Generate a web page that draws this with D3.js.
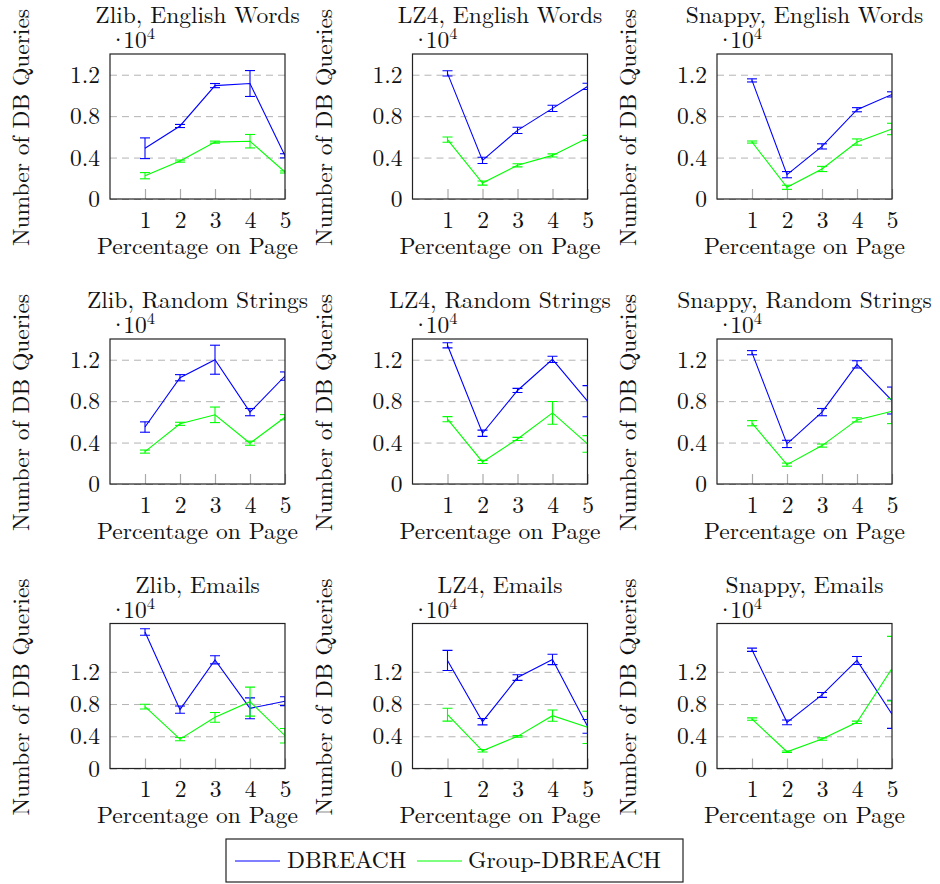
<!DOCTYPE html>
<html>
<head>
<meta charset="utf-8">
<script src="https://cdn.jsdelivr.net/npm/d3@7"></script>
<style>
  body { margin: 0; background: #fff; }
</style>
</head>
<body>
<div id="chart"></div>
<script>
// categories
var xValues = [1, 2, 3, 4, 5];
var algorithms = ['Zlib', 'LZ4', 'Snappy'];
var datasets = ['English Words', 'Random Strings', 'Emails'];
var seriesNames = ['DBREACH', 'Group-DBREACH'];

// y axis per row (values in units of 10^4)
var rowYMax = [1.4, 1.4, 1.8];
var yTickValues = [0, 0.4, 0.8, 1.2];
var yTickLabels = ['0', '0.4', '0.8', '1.2'];

// panels in reading order: row = dataset, col = algorithm
var dbreachMean = [
  [0.49, 0.705, 1.095, 1.115, 0.417],
  [1.213, 0.373, 0.663, 0.875, 1.087],
  [1.145, 0.235, 0.508, 0.862, 1.01],
  [0.55, 1.026, 1.2, 0.694, 1.042],
  [1.339, 0.49, 0.903, 1.203, 0.8],
  [1.268, 0.387, 0.694, 1.155, 0.806],
  [1.694, 0.731, 1.349, 0.747, 0.835],
  [1.341, 0.581, 1.129, 1.354, 0.523],
  [1.474, 0.573, 0.913, 1.341, 0.673]
];
var dbreachErr = [
  [0.10, 0.015, 0.02, 0.125, 0.02],
  [0.025, 0.03, 0.03, 0.03, 0.03],
  [0.015, 0.03, 0.025, 0.02, 0.025],
  [0.05, 0.03, 0.14, 0.035, 0.04],
  [0.025, 0.03, 0.02, 0.03, 0.15],
  [0.02, 0.035, 0.035, 0.035, 0.13],
  [0.04, 0.045, 0.05, 0.13, 0.055],
  [0.125, 0.04, 0.035, 0.065, 0.085],
  [0.02, 0.03, 0.03, 0.05, 0.175]
];
var groupMean = [
  [0.225, 0.366, 0.549, 0.558, 0.261],
  [0.573, 0.154, 0.325, 0.421, 0.589],
  [0.55, 0.113, 0.29, 0.55, 0.676],
  [0.313, 0.581, 0.668, 0.394, 0.645],
  [0.626, 0.213, 0.435, 0.687, 0.387],
  [0.587, 0.187, 0.371, 0.619, 0.703],
  [0.768, 0.365, 0.635, 0.83, 0.407],
  [0.668, 0.22, 0.399, 0.656, 0.511],
  [0.614, 0.208, 0.365, 0.573, 1.24]
];
var groupErr = [
  [0.03, 0.01, 0.01, 0.065, 0.01],
  [0.025, 0.02, 0.015, 0.015, 0.025],
  [0.01, 0.02, 0.025, 0.03, 0.055],
  [0.015, 0.015, 0.075, 0.02, 0.025],
  [0.025, 0.015, 0.015, 0.11, 0.08],
  [0.025, 0.015, 0.015, 0.02, 0.12],
  [0.03, 0.02, 0.06, 0.18, 0.09],
  [0.08, 0.015, 0.01, 0.07, 0.2],
  [0.015, 0.01, 0.015, 0.015, 0.4]
];
var seriesColors = ['#0000ff', '#00ff00'];

var W = 940, H = 884;
var colLeft = [110, 412.5, 717];
var rowTop = [54, 339, 623.5];
var boxW = 175, boxH = 145;
var fs = 23.5;
var serif = '"Latin Modern Roman", "CMU Serif", "Computer Modern", "Liberation Serif", serif';

var svg = d3.select('#chart').append('svg')
  .attr('width', W)
  .attr('height', H)
  .attr('font-family', serif);

function label(parent){
  return parent.append('text')
    .attr('font-family', serif)
    .attr('font-size', fs)
    .attr('fill', '#111');
}

datasets.forEach(function(ds, r){
  algorithms.forEach(function(alg, c){
    var idx = r * 3 + c;
    var g = svg.append('g').attr('transform', 'translate(' + colLeft[c] + ',' + rowTop[r] + ')');
    var x = d3.scaleLinear().domain([0, 5]).range([0, boxW]);
    var y = d3.scaleLinear().domain([0, rowYMax[r]]).range([boxH, 0]);

    // dashed grid + y labels
    var yAxis = g.append('g')
      .call(d3.axisLeft(y).tickValues(yTickValues).tickSize(-boxW).tickPadding(10)
        .tickFormat(function(d, i){ return yTickLabels[i]; }));
    yAxis.attr('font-family', serif);
    yAxis.select('.domain').remove();
    yAxis.selectAll('line')
      .attr('stroke', '#b3b3b3')
      .attr('stroke-dasharray', '7,5');
    yAxis.selectAll('text')
      .attr('font-size', fs)
      .attr('fill', '#111');

    // x ticks inside the box
    var xAxis = g.append('g').attr('transform', 'translate(0,' + boxH + ')')
      .call(d3.axisBottom(x).tickValues(xValues).tickSize(-10).tickPadding(12)
        .tickFormat(d3.format('d')));
    xAxis.attr('font-family', serif);
    xAxis.select('.domain').remove();
    xAxis.selectAll('line').attr('stroke', '#aaa').attr('stroke-width', 1.2);
    xAxis.selectAll('text')
      .attr('font-size', fs)
      .attr('fill', '#111');

    var clipId = 'clip' + idx;
    g.append('clipPath').attr('id', clipId)
      .append('rect').attr('width', boxW).attr('height', boxH);

    var plot = g.append('g').attr('clip-path', 'url(#' + clipId + ')');
    var series = [
      {mean: dbreachMean[idx], err: dbreachErr[idx], color: seriesColors[0]},
      {mean: groupMean[idx], err: groupErr[idx], color: seriesColors[1]}
    ];
    var line = d3.line()
      .x(function(d, i){ return x(xValues[i]); })
      .y(function(d){ return y(d); });

    series.forEach(function(s){
      plot.append('path')
        .datum(s.mean)
        .attr('d', line)
        .attr('fill', 'none')
        .attr('stroke', s.color)
        .attr('stroke-width', 1.1);

      var bars = plot.selectAll(null)
        .data(s.mean.map(function(m, i){ return {x: xValues[i], m: m, e: s.err[i]}; }))
        .enter().append('g')
        .attr('stroke', s.color)
        .attr('stroke-width', 1.1);
      bars.append('line')
        .attr('x1', function(d){ return x(d.x); })
        .attr('x2', function(d){ return x(d.x); })
        .attr('y1', function(d){ return y(d.m - d.e); })
        .attr('y2', function(d){ return y(d.m + d.e); });
      [1, -1].forEach(function(sign){
        bars.append('line')
          .attr('x1', function(d){ return x(d.x) - 5; })
          .attr('x2', function(d){ return x(d.x) + 5; })
          .attr('y1', function(d){ return y(d.m + sign * d.e); })
          .attr('y2', function(d){ return y(d.m + sign * d.e); });
      });
    });

    g.append('rect')
      .attr('width', boxW)
      .attr('height', boxH)
      .attr('fill', 'none')
      .attr('stroke', '#222')
      .attr('stroke-width', 1.2);

    // title, scale note, labels
    label(g)
      .attr('x', boxW / 2).attr('y', -31)
      .attr('text-anchor', 'middle')
      .text(alg + ', ' + ds);

    var sc = label(g).attr('x', -1).attr('y', -6);
    sc.append('tspan').text('\u00b7');
    sc.append('tspan').attr('dx', -4).text('10');
    sc.append('tspan').attr('dy', -9).attr('font-size', 16.5).text('4');

    label(g)
      .attr('x', boxW / 2).attr('y', boxH + 54.5)
      .attr('text-anchor', 'middle')
      .text('Percentage on Page');

    label(g)
      .attr('transform', 'translate(-81,' + (boxH / 2 + 1) + ') rotate(-90)')
      .attr('text-anchor', 'middle')
      .text('Number of DB Queries');
  });
});

// legend
var legend = svg.append('g');
legend.append('rect')
  .attr('x', 226).attr('y', 839)
  .attr('width', 457).attr('height', 43)
  .attr('fill', '#fff')
  .attr('stroke', '#222')
  .attr('stroke-width', 1.2);
var legX = [[235, 280, 287], [417, 462, 468]];
seriesNames.forEach(function(name, i){
  legend.append('line')
    .attr('x1', legX[i][0]).attr('x2', legX[i][1])
    .attr('y1', 861).attr('y2', 861)
    .attr('stroke', seriesColors[i])
    .attr('stroke-width', 1.1);
  label(legend)
    .attr('x', legX[i][2]).attr('y', 868)
    .text(name);
});
</script>
</body>
</html>
